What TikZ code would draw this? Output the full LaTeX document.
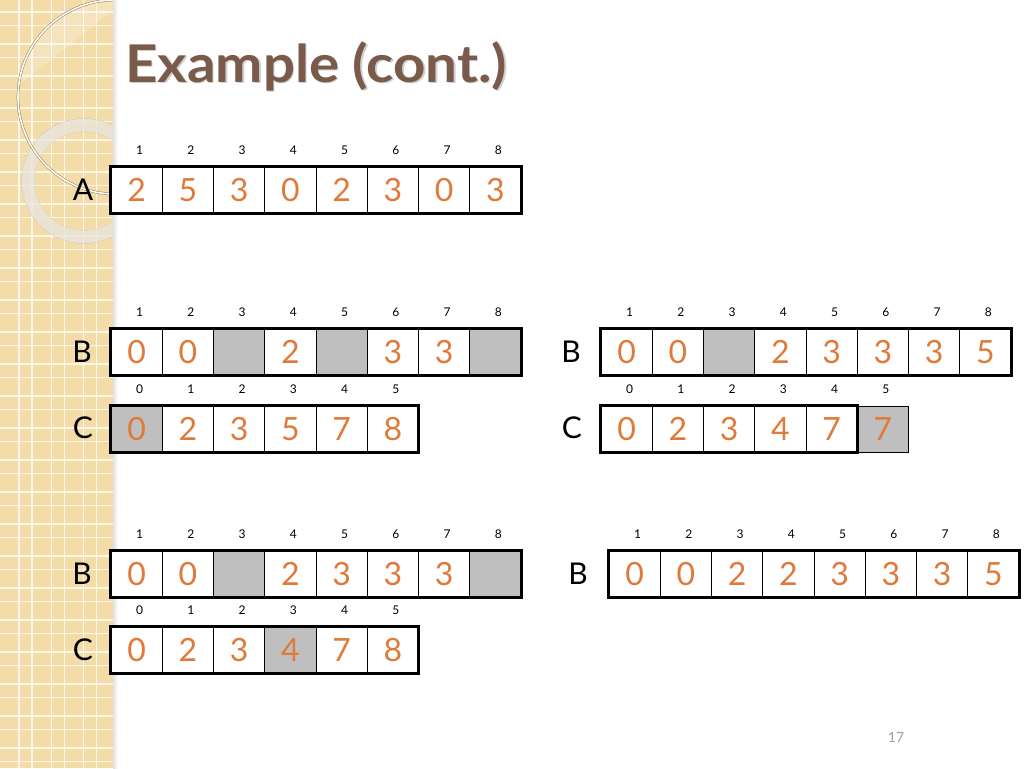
\documentclass[tikz,border=0pt]{standalone}
\usepackage{fontspec}
\setmainfont{Lato}
\definecolor{orng}{HTML}{E07A3A}
\definecolor{cgray}{HTML}{BFBFBF}
\definecolor{titlec}{HTML}{7A5A4A}
\definecolor{stripc}{HTML}{F3DCA8}
\definecolor{ringc}{HTML}{E9E5DD}
\definecolor{pnum}{HTML}{A89F94}
\tikzset{
 cell/.style={draw=black, line width=0.9pt, minimum width=51.25pt, minimum height=46pt, inner sep=0pt, text=orng, font=\fontsize{32}{32}\selectfont},
 idx/.style={font=\fontsize{12}{12}\selectfont, inner sep=0pt},
 lbl/.style={font=\fontsize{30}{30}\selectfont, inner sep=0pt},
 frame/.style={draw=black, line width=3pt},
 gridl/.style={draw=white, line width=1.3pt, opacity=0.75},
 ttl/.style={anchor=base west, inner sep=0pt, font=\fontsize{52}{52}\selectfont\bfseries},
}
\newcommand\mkrow[6]{%
  \foreach \v/\f [count=\i from 0] in {#6}{
    \node[cell, fill=\f] (#1-\i) at ({#2+(\i+0.5)*51.25},{#3+23}) {\v};
    \pgfmathtruncatemacro\lab{\i+#4}
    \node[idx] (#1-n\i) at ({#2+(\i+0.5)*51.25+3},{#3-16.5}) {\lab};
  }
  \draw[frame] (#1-0.north west) rectangle (#1-#5.south east);
}
\begin{document}
\begin{tikzpicture}[x=1pt,y=-1pt]
\useasboundingbox (0,0) rectangle (1024,768);
\fill[white] (0,0) rectangle (1024,768);
% left decorative strip
\fill[stripc] (0,0) rectangle (113,768);
\foreach \k in {0,...,24}{
  \draw[gridl] ({19+32.4*\k-32.4},0) -- ({19+32.4*\k-32.4},768);
  \draw[gridl] ({32+32.4*\k-32.4},0) -- ({32+32.4*\k-32.4},768);
  \draw[gridl] (0,{12+32*\k}) -- (113,{12+32*\k});
  \draw[gridl] (0,{25.7+32*\k}) -- (113,{25.7+32*\k});
}
\begin{scope}
  \clip (0,0) rectangle (113,768);
  \begin{scope}
    \clip (115,97) circle (97);
    \fill[white, opacity=0.22] (0,100) -- (0,0) -- (113,0) -- (113,10) -- cycle;
  \end{scope}
  \draw[draw=ringc, line width=13pt, opacity=0.8] (84,181) circle (56);
  \draw[draw=black!25, line width=0.4pt, opacity=0.6] (84,181) circle (62.5);
  \draw[draw=black!20, line width=0.4pt, opacity=0.6] (84,181) circle (49.5);
  \draw[draw=black!40!stripc, double=white!85!stripc, double distance=1.6pt, line width=0.5pt] (115,97) circle (97);
\end{scope}
\shade[left color=black!12, right color=white] (113,0) rectangle (118,768);
% title
\node[ttl, text=black, opacity=0.18] (titleshadow) at (126.5,83.5) {\scalebox{1.085}[1]{Example (cont.)}};
\node[ttl, text=titlec] (title) at (125,82) {\scalebox{1.085}[1]{Example (cont.)}};
% A
\node[lbl] (labA) at (83,190) {A};
\mkrow{A}{111}{167}{1}{7}{2/white,5/white,3/white,0/white,2/white,3/white,0/white,3/white}
% middle left
\node[lbl] (labB1) at (82,352) {B};
\mkrow{B1}{111}{329}{1}{7}{0/white,0/white,{}/cgray,2/white,{}/cgray,3/white,3/white,{}/cgray}
\node[lbl] (labC1) at (83,428) {C};
\mkrow{C1}{111}{406}{0}{5}{0/cgray,2/white,3/white,5/white,7/white,8/white}
% middle right
\node[lbl] (labB2) at (571,352) {B};
\mkrow{B2}{601}{329}{1}{7}{0/white,0/white,{}/cgray,2/white,3/white,3/white,3/white,5/white}
\node[lbl] (labC2) at (572,428) {C};
\mkrow{C2}{601}{406}{0}{4}{0/white,2/white,3/white,4/white,7/white,7/cgray}
% bottom left
\node[lbl] (labB3) at (82,574) {B};
\mkrow{B3}{111}{551}{1}{7}{0/white,0/white,{}/cgray,2/white,3/white,3/white,3/white,{}/cgray}
\node[lbl] (labC3) at (83,650) {C};
\mkrow{C3}{111}{627}{0}{5}{0/white,2/white,3/white,4/cgray,7/white,8/white}
% bottom right
\node[lbl] (labB4) at (578,574) {B};
\mkrow{B4}{609}{551}{1}{7}{0/white,0/white,2/white,2/white,3/white,3/white,3/white,5/white}
% page number
\node[text=pnum, font=\fontsize{14}{14}\selectfont, inner sep=0pt] (pg) at (896,737) {17};
\end{tikzpicture}
\end{document}
